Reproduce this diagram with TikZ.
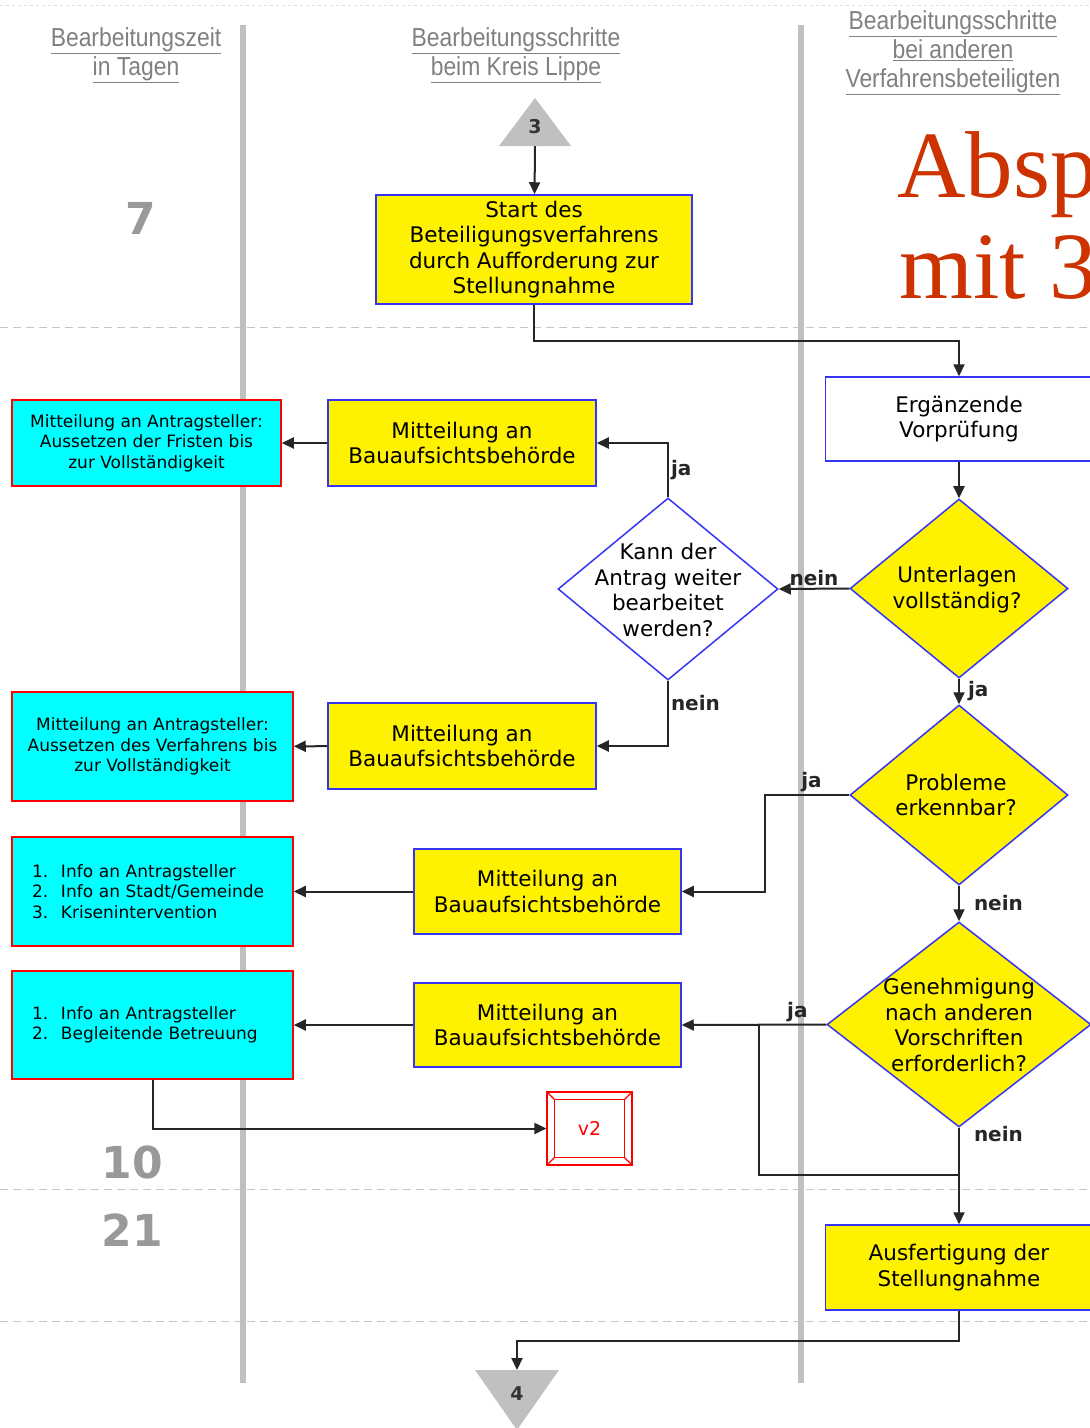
\documentclass[tikz,border=0pt]{standalone}
\usepackage{fontspec}
\usepackage{tikz}
\usetikzlibrary{calc,shapes.geometric,arrows.meta}
\setmainfont{DejaVu Sans}
\newfontfamily\hdfont[FakeStretch=0.88]{Liberation Sans}
\newfontfamily\redfont{Liberation Serif}
\definecolor{boxblue}{HTML}{3535F5}
\definecolor{aqua}{HTML}{00FFFF}
\definecolor{lanegray}{HTML}{C0C0C0}
\definecolor{daygray}{HTML}{999999}
\definecolor{headgray}{HTML}{808080}
\definecolor{titlered}{HTML}{CC3300}

\begin{document}
\begin{tikzpicture}[x=1pt,y=-1pt,
  ybox/.style={draw=boxblue,fill=yellow,line width=1.5pt,align=center,inner sep=0pt,
    font=\fontsize{21.5}{25.5}\selectfont},
  wbox/.style={ybox,fill=white},
  cbox/.style={draw=red,fill=aqua,line width=1.5pt,align=center,inner sep=0pt,
    font=\fontsize{17}{20.5}\selectfont},
  dia/.style={diamond,draw=boxblue,fill=yellow,line width=1.5pt,inner sep=0pt},
  diatext/.style={align=center,font=\fontsize{21.5}{25.5}\selectfont},
  conn/.style={line width=2pt,black!85,-{Triangle[length=12pt,width=11pt]}},
  plain/.style={line width=2pt,black!85},
  lbl/.style={font=\bfseries\fontsize{20}{24}\selectfont,text=black!85,inner sep=2pt},
  lane/.style={line width=6pt,lanegray},
  daysep/.style={line width=1pt,gray!45,dash pattern=on 8pt off 5pt},
  day/.style={font=\bfseries\fontsize{44}{48}\selectfont,text=daygray},
  hdr/.style={align=center,text=headgray,font=\hdfont\fontsize{26}{29}\selectfont},
  tri/.style={fill=lanegray}]
\useasboundingbox (0,0) rectangle (1090,1428);
\clip (0,0) rectangle (1090,1428);

\draw[gray!25,dash pattern=on 3pt off 3pt] (0,5) -- (1090,5);
\foreach \y in {327,1189,1321} \draw[daysep] (0,\y) -- (1090,\y);
\draw[lane] (243,25) -- (243,1383);
\draw[lane] (801,25) -- (801,1383);

\node[hdr] (hzeit) at (136,55) {\underline{Bearbeitungszeit}\\\underline{in Tagen}};
\node[hdr] (hkreis) at (516,55) {\underline{Bearbeitungsschritte}\\\underline{beim Kreis Lippe}};
\node[hdr] (handere) at (953,53) {\underline{Bearbeitungsschritte}\\\underline{bei anderen}\\\underline{Verfahrensbeteiligten}};

\node[anchor=base west,inner sep=0pt,text=titlered,font=\redfont\fontsize{95}{101}\selectfont] (absp) at (897,197) {Absp};
\node[anchor=base west,inner sep=0pt,text=titlered,font=\redfont\fontsize{95}{101}\selectfont] (mit) at (899,298) {mit 3};

\node[day] (d7) at (141,218) {7};
\node[day] (d10) at (132,1162) {10};
\node[day] (d21) at (132,1230) {21};

\fill[tri] (499,146) -- (535,98) -- (571,146) -- cycle;
\node[font=\bfseries\fontsize{19}{22}\selectfont,text=black!80] (t3) at (535,127) {3};
\coordinate (t3b) at (535,146);
\fill[tri] (475,1370) -- (559,1370) -- (517,1430) -- cycle;
\node[font=\bfseries\fontsize{19}{22}\selectfont,text=black!80] (t4) at (517,1394) {4};
\coordinate (t4t) at (517,1370);

\node[ybox,minimum width=316,minimum height=109] (start) at (534,249.5) {Start des\\Beteiligungsverfahrens\\durch Aufforderung zur\\Stellungnahme};
\node[wbox,minimum width=267,minimum height=84] (erg) at (959,419) {Ergänzende\\Vorprüfung};

\node[dia,minimum width=218,minimum height=179] (unt) at (959,588.5) {};
\node[diatext] at (957,589.5) {Unterlagen\\vollständig?};
\node[dia,fill=white,minimum width=220,minimum height=182] (kann) at (668,589) {};
\node[diatext] at (668,590) {Kann der\\Antrag weiter\\bearbeitet\\werden?};
\node[dia,minimum width=218,minimum height=180] (prob) at (959,795) {};
\node[diatext] at (956,795) {Probleme\\erkennbar?};
\node[dia,minimum width=264,minimum height=205] (gen) at (959,1024.5) {};
\node[diatext] at (959,1025) {Genehmigung\\nach anderen\\Vorschriften\\erforderlich?};

\node[ybox,minimum width=268,minimum height=86] (m1) at (462,443) {Mitteilung an\\Bauaufsichtsbehörde};
\node[ybox,minimum width=268,minimum height=86] (m2) at (462,746) {Mitteilung an\\Bauaufsichtsbehörde};
\node[ybox,minimum width=267,minimum height=85] (m3) at (547.5,891.5) {Mitteilung an\\Bauaufsichtsbehörde};
\node[ybox,minimum width=267,minimum height=84] (m4) at (547.5,1025) {Mitteilung an\\Bauaufsichtsbehörde};
\node[ybox,minimum width=267,minimum height=85] (ausf) at (959,1267.5) {Ausfertigung der\\Stellungnahme};

\node[cbox,minimum width=269,minimum height=86] (c1) at (146.5,443) {Mitteilung an Antragsteller:\\Aussetzen der Fristen bis\\zur Vollständigkeit};
\node[cbox,minimum width=281,minimum height=109] (c2) at (152.5,746.5) {Mitteilung an Antragsteller:\\Aussetzen des Verfahrens bis\\zur Vollständigkeit};
\node[cbox,align=left,text width=241,minimum width=281,minimum height=109,inner xsep=20pt] (c3) at (152.5,891.5)
  {\makebox[29pt][l]{1.}Info an Antragsteller\\\makebox[29pt][l]{2.}Info an Stadt/Gemeinde\\\makebox[29pt][l]{3.}Krisenintervention};
\node[cbox,align=left,text width=241,minimum width=281,minimum height=108,inner xsep=20pt] (c4) at (152.5,1025)
  {\makebox[29pt][l]{1.}Info an Antragsteller\\\makebox[29pt][l]{2.}Begleitende Betreuung};

\node[draw=red,line width=1.2pt,minimum width=85,minimum height=73,text=red,font=\fontsize{19}{22}\selectfont] (v2) at (589.5,1128.5) {v2};
\draw[red,line width=1.2pt] ($(v2.north west)+(8,8)$) rectangle ($(v2.south east)+(-8,-8)$);
\foreach \c/\dx/\dy in {north west/8/8,north east/-8/8,south west/8/-8,south east/-8/-8}
  \draw[red,line width=1.2pt] (v2.\c) -- ++(\dx,\dy);

\draw[conn] (t3b) -- (start);
\draw[conn] (start.south) -- ++(0,36) -| (erg.north);
\draw[conn] (erg) -- (unt);
\draw[conn] (unt.west) -- node[lbl,above]{nein} (kann.east);
\draw[conn] (kann.north) |- node[lbl,pos=.25,right]{ja} (m1.east);
\draw[conn] (m1) -- (c1);
\draw[conn] (kann.south) |- node[lbl,pos=.17,right]{nein} (m2.east);
\draw[conn] (m2) -- (c2);
\draw[conn] (unt) -- node[lbl,right,xshift=6pt]{ja} (prob);
\draw[conn] (prob.west) -- node[lbl,above,pos=.45]{ja} ++(-84,0) |- (m3.east);
\draw[conn] (m3) -- (c3);
\draw[conn] (prob) -- node[lbl,right,xshift=12pt]{nein} (gen);
\draw[conn] (gen.west) -- node[lbl,above,pos=.2]{ja} (m4.east);
\coordinate (split) at (759,1025);
\coordinate (merge) at (959,1175);
\draw[plain] (split) |- (merge);
\draw[conn] (gen.south) -- node[lbl,right,pos=.07,xshift=12pt]{nein} (ausf.north);
\draw[conn] (m4) -- (c4);
\draw[conn] (c4.south) |- (v2.west);
\draw[conn] (ausf.south) -- ++(0,30) -| (t4t);
\end{tikzpicture}
\end{document}
